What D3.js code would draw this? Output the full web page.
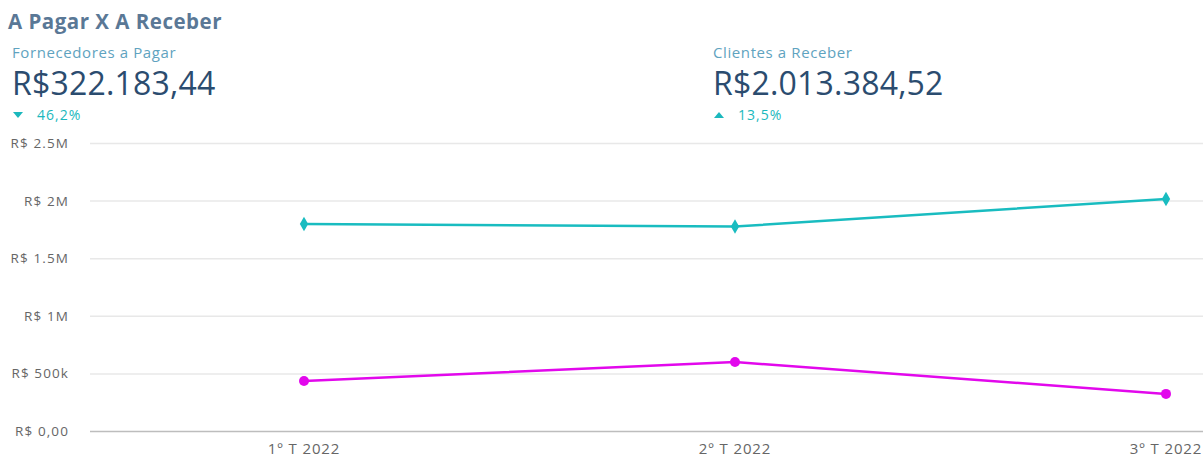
<!DOCTYPE html>
<html>
<head>
<meta charset="utf-8">
<script src="https://cdn.jsdelivr.net/npm/d3@7"></script>
<style>
    body { margin: 0; background: #fff; font-family: "Open Sans", sans-serif; }
    svg { display: block; }
</style>
</head>
<body>
<div id="chart"></div>
<script>
var quarters = ["1º T 2022", "2º T 2022", "3º T 2022"];
var receber = [1797000, 1775000, 2013384.52];
var pagar = [434000, 599000, 322183.44];
var yTicks = [0, 500000, 1000000, 1500000, 2000000, 2500000];
var yTickLabels = ["R$ 0,00", "R$ 500k", "R$ 1M", "R$ 1.5M", "R$ 2M", "R$ 2.5M"];

var width = 1203, height = 458;
var margin = { top: 143, right: 0, bottom: 27, left: 90 };

var svg = d3.select("#chart").append("svg")
    .attr("width", width)
    .attr("height", height);

// header
svg.append("text").attr("x", 8).attr("y", 29)
    .attr("font-size", 20.5).attr("font-weight", 700).attr("fill", "#5a7896")
    .attr("letter-spacing", 0.5)
    .text("A Pagar X A Receber");

function kpi(x, label, value, pct, up) {
    svg.append("text").attr("x", x + 4).attr("y", 58)
        .attr("font-size", 15).attr("letter-spacing", 0.6)
        .attr("fill", "#5fa3c0").text(label);
    svg.append("text").attr("x", x + 4).attr("y", 95)
        .attr("font-size", 32).attr("letter-spacing", 0.2)
        .attr("fill", "#2b4c6f").text(value);
    var tri = up ? "M0,-3 L5,3 L-5,3 Z" : "M0,3 L5,-3 L-5,-3 Z";
    svg.append("path").attr("d", tri)
        .attr("transform", "translate(" + (x + 10) + ",115)")
        .attr("fill", "#1bb8bd");
    svg.append("text").attr("x", x + 29).attr("y", 120)
        .attr("font-size", 14).attr("letter-spacing", 1)
        .attr("fill", "#1bb8bd").text(pct);
}
kpi(8, "Fornecedores a Pagar", "R$322.183,44", "46,2%", false);
kpi(709, "Clientes a Receber", "R$2.013.384,52", "13,5%", true);

var x = d3.scalePoint().domain(quarters)
    .range([304, 1166]);
var y = d3.scaleLinear().domain([0, 2500000])
    .range([height - margin.bottom, margin.top]);

var g = svg.append("g");

// grid
g.selectAll("line.grid").data(yTicks.slice(1)).enter().append("line")
    .attr("class", "grid")
    .attr("x1", margin.left).attr("x2", width)
    .attr("y1", function (d) { return y(d) + 0.5; })
    .attr("y2", function (d) { return y(d) + 0.5; })
    .attr("stroke", "#e8e8e8").attr("stroke-width", 1.5);

g.append("line")
    .attr("x1", margin.left).attr("x2", width)
    .attr("y1", y(0) + 0.5).attr("y2", y(0) + 0.5)
    .attr("stroke", "#bdbdbd").attr("stroke-width", 1.5);

g.selectAll("text.ylab").data(yTicks).enter().append("text")
    .attr("class", "ylab")
    .attr("x", 69).attr("y", function (d) { return y(d) + 5; })
    .attr("text-anchor", "end").attr("font-size", 13.5)
    .attr("letter-spacing", 1.1).attr("fill", "#666")
    .text(function (d, i) { return yTickLabels[i]; });

g.selectAll("text.xlab").data(quarters).enter().append("text")
    .attr("class", "xlab")
    .attr("x", function (d) { return x(d); }).attr("y", 454)
    .attr("text-anchor", "middle").attr("font-size", 15)
    .attr("letter-spacing", 0.9).attr("fill", "#666")
    .text(function (d) { return d; });

var line = d3.line()
    .x(function (d, i) { return x(quarters[i]); })
    .y(function (d) { return y(d); });

g.append("path").datum(receber).attr("d", line)
    .attr("fill", "none").attr("stroke", "#19bcc0").attr("stroke-width", 2.5);
g.append("path").datum(pagar).attr("d", line)
    .attr("fill", "none").attr("stroke", "#e208ec").attr("stroke-width", 2.5);

g.selectAll("path.dia").data(receber).enter().append("path")
    .attr("class", "dia")
    .attr("d", d3.symbol().type(d3.symbolDiamond).size(60))
    .attr("transform", function (d, i) { return "translate(" + x(quarters[i]) + "," + y(d) + ")"; })
    .attr("fill", "#19bcc0");

g.selectAll("circle.dot").data(pagar).enter().append("circle")
    .attr("class", "dot")
    .attr("cx", function (d, i) { return x(quarters[i]); })
    .attr("cy", function (d) { return y(d); })
    .attr("r", 5)
    .attr("fill", "#e208ec");
</script>
</body>
</html>
